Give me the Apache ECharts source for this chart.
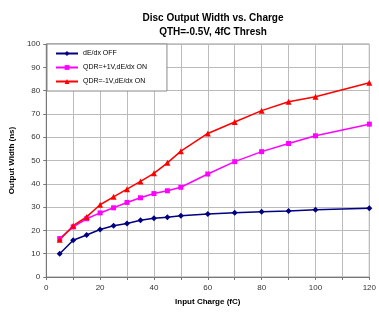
<!DOCTYPE html>
<html>
<head>
<meta charset="utf-8">
<script src="https://cdn.jsdelivr.net/npm/echarts@6/dist/echarts.min.js"></script>
<style>
  html, body { margin: 0; padding: 0; background: #fff; }
  #chart { width: 379px; height: 312px; }
</style>
</head>
<body>
<div id="chart"></div>
<script>
const charge = [5, 10, 15, 20, 25, 30, 35, 40, 45, 50, 60, 70, 80, 90, 100, 120];
const dedxOff = [10, 15.8, 18, 20.4, 22, 23, 24.4, 25.2, 25.6, 26.3, 27, 27.6, 28, 28.3, 28.9, 29.5];
const qdrPlus = [16.5, 21.5, 25, 27.5, 29.7, 32, 34, 35.8, 37, 38.5, 44.2, 49.5, 53.8, 57.3, 60.6, 65.6];
const qdrMinus = [16, 22, 25.8, 31, 34.4, 37.7, 41, 44.5, 49, 54, 61.6, 66.5, 71.4, 75.2, 77.4, 83.4];
const seriesNames = ['dE/dx OFF', 'QDR=+1V,dE/dx ON', 'QDR=-1V,dE/dx ON'];

const font = 'Liberation Sans, Arial, sans-serif';
const pairs = (ys) => charge.map((x, i) => [x, ys[i]]);

const chart = echarts.init(document.getElementById('chart'));

function line(name, ys, color, symbol, size) {
  return {
    name,
    type: 'line',
    data: pairs(ys),
    symbol,
    symbolSize: size,
    lineStyle: { color, width: 1.5 },
    itemStyle: { color },
    animation: false,
  };
}

chart.setOption({
  backgroundColor: '#fff',
  title: {
    text: 'Disc Output Width vs. Charge\nQTH=-0.5V, 4fC Thresh',
    left: 208,
    textAlign: 'center',
    top: 6,
    textStyle: { fontFamily: font, fontSize: 10, fontWeight: 'bold', color: '#000', lineHeight: 14 },
  },
  legend: {
    orient: 'vertical',
    left: 47,
    top: 44,
    width: 118,
    padding: [6, 20, 6, 8],
    itemGap: 7,
    itemWidth: 22,
    itemHeight: 6,
    backgroundColor: '#fff',
    borderColor: '#888',
    borderWidth: 1,
    textStyle: { fontFamily: font, fontSize: 7, color: '#000' },
    data: seriesNames,
  },
  grid: { left: 46, right: 9, top: 44, bottom: 35, show: true, borderColor: '#999', borderWidth: 1 },
  xAxis: {
    type: 'value',
    min: 0,
    max: 120,
    interval: 10,
    name: 'Input Charge (fC)',
    nameLocation: 'middle',
    nameGap: 21,
    nameTextStyle: { fontFamily: font, fontSize: 8, fontWeight: 'bold', color: '#000' },
    axisLine: { lineStyle: { color: '#777' } },
    axisTick: { show: true, length: 3, lineStyle: { color: '#777' } },
    axisLabel: {
      fontFamily: font, fontSize: 8, color: '#333', margin: 7,
      formatter: (v) => (v % 20 === 0 ? String(v) : ''),
    },
    splitLine: { show: true, lineStyle: { color: '#bbb', width: 1 } },
  },
  yAxis: {
    type: 'value',
    min: 0,
    max: 100,
    interval: 10,
    name: 'Output Width (ns)',
    nameLocation: 'middle',
    nameGap: 24,
    nameTextStyle: { fontFamily: font, fontSize: 8, fontWeight: 'bold', color: '#000' },
    axisLine: { show: true, lineStyle: { color: '#777' } },
    axisTick: { show: true, length: 3, lineStyle: { color: '#777' } },
    axisLabel: { fontFamily: font, fontSize: 8, color: '#333', margin: 6 },
    splitLine: { show: true, lineStyle: { color: '#bbb', width: 1 } },
  },
  series: [
    line(seriesNames[0], dedxOff, '#000080', 'diamond', 6),
    line(seriesNames[1], qdrPlus, '#ff00ff', 'rect', 5),
    line(seriesNames[2], qdrMinus, '#ff0000', 'triangle', 6),
  ],
});
</script>
</body>
</html>
